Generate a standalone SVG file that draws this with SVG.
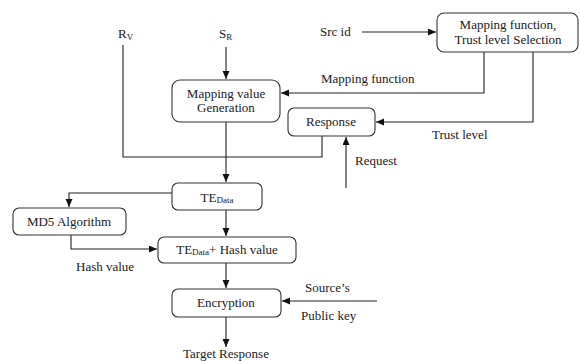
<svg xmlns="http://www.w3.org/2000/svg" width="580" height="361" viewBox="0 0 580 361">
<style>
text{font-family:"Liberation Serif","DejaVu Serif","Times New Roman",serif;font-size:13px;fill:#1a1a1a}
.c{text-anchor:middle}
.sub{font-size:9px}
.box{fill:#fff;stroke:#333;stroke-width:1.1}
.ln{fill:none;stroke:#222;stroke-width:1.1}
.ar{marker-end:url(#ah)}
</style>
<defs>
<marker id="ah" markerUnits="userSpaceOnUse" markerWidth="8" markerHeight="8" refX="8" refY="3.5" orient="auto">
<path d="M0,0 L8,3.5 L0,7 z" fill="#111"/>
</marker>
</defs>
<rect width="580" height="361" fill="#fff"/>
<g id="connectors">
<path class="ln ar" d="M226,47 V79"/>
<path class="ln ar" d="M362,32 H436"/>
<path class="ln ar" d="M484,52 V93 H281"/>
<path class="ln ar" d="M533,52 V122 H376"/>
<path class="ln" d="M123,45 V157 H322 V136"/>
<path class="ln ar" d="M346,188 V137"/>
<path class="ln ar" d="M226,122 V182"/>
<path class="ln ar" d="M172,193 H69 V207"/>
<path class="ln ar" d="M71,235 V249 H157"/>
<path class="ln ar" d="M226,210 V236"/>
<path class="ln ar" d="M226,263 V288"/>
<path class="ln ar" d="M377,301 H282"/>
<path class="ln ar" d="M226,317 V347"/>
</g>
<g id="rv"><text x="118" y="38">R<tspan class="sub" dy="2">V</tspan></text></g>
<g id="sr"><text x="219" y="38">S<tspan class="sub" dy="2">R</tspan></text></g>
<g id="srcid"><text x="320" y="36">Src id</text></g>
<g id="mapsel">
<rect class="box" x="437" y="13" width="141" height="39" rx="7"/>
<text class="c" x="508" y="29">Mapping function,</text>
<text class="c" x="508" y="44">Trust level Selection</text>
</g>
<g id="mapval">
<rect class="box" x="172" y="80" width="108" height="42" rx="8"/>
<text class="c" x="226" y="98">Mapping value</text>
<text class="c" x="226" y="112">Generation</text>
</g>
<g id="response">
<rect class="box" x="288" y="108" width="87" height="28" rx="6"/>
<text class="c" x="331" y="126">Response</text>
</g>
<g id="labels">
<text x="321" y="83">Mapping function</text>
<text x="432" y="139">Trust level</text>
<text x="355" y="165">Request</text>
<text x="76" y="271">Hash value</text>
<text x="305" y="292">Source’s</text>
<text x="301" y="320">Public key</text>
<text class="c" x="226" y="358">Target Response</text>
</g>
<g id="tedata">
<rect class="box" x="172" y="183" width="90" height="27" rx="6"/>
<text class="c" x="217" y="202">TE<tspan class="sub" dy="1">Data</tspan></text>
</g>
<g id="md5">
<rect class="box" x="13" y="208" width="113" height="27" rx="6"/>
<text class="c" x="69" y="226">MD5 Algorithm</text>
</g>
<g id="tehash">
<rect class="box" x="158" y="237" width="138" height="26" rx="6"/>
<text class="c" x="227" y="254">TE<tspan class="sub" dy="1">Data</tspan><tspan dy="-1">+ Hash value</tspan></text>
</g>
<g id="encryption">
<rect class="box" x="172" y="289" width="109" height="28" rx="6"/>
<text class="c" x="226" y="307">Encryption</text>
</g>
</svg>
